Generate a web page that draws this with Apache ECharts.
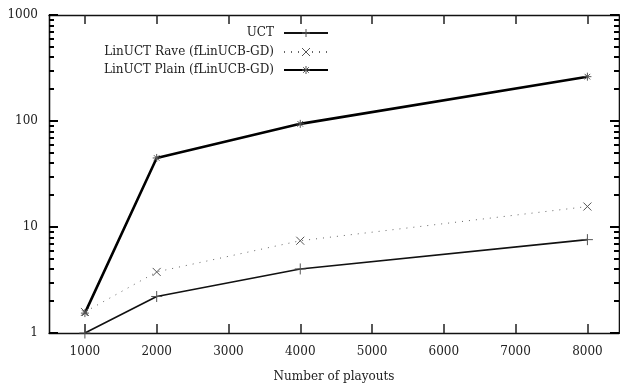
<!DOCTYPE html>
<html>
<head>
<meta charset="utf-8">
<script src="https://cdn.jsdelivr.net/npm/echarts@6/dist/echarts.min.js"></script>
<style>
html,body{margin:0;padding:0;background:#fff;}
#c{width:620px;height:388px;}
</style>
</head>
<body>
<div id="c"></div>
<script>
var playouts = [1000, 2000, 4000, 8000];
var uctValues = [1.0, 2.21, 4.02, 7.6];
var raveValues = [1.58, 3.77, 7.42, 15.6];
var plainValues = [1.54, 44.8, 94, 262];
var xTicks = [1000, 2000, 3000, 4000, 5000, 6000, 7000, 8000];
var yMinorTicks = [2,3,4,5,6,7,8,9,20,30,40,50,60,70,80,90,200,300,400,500,600,700,800,900];
var seriesNames = ['UCT', 'LinUCT Rave (fLinUCB-GD)', 'LinUCT Plain (fLinUCB-GD)'];

function pairs(vals){ return playouts.map(function(x,i){ return [x, vals[i]]; }); }

var FONT = 'DejaVu Serif';
var TXT = '#222';
var TICK = '#222';
var sym = {
  plus: 'path://M0,5L10,5M5,0L5,10',
  cross: 'path://M0,0L10,10M10,0L0,10',
  star: 'path://M0,5L10,5M5,0L5,10M1.5,1.5L8.5,8.5M8.5,1.5L1.5,8.5'
};
var axLine = {show:true, lineStyle:{color:'#111', width:1.3}};
function plain(v){ return String(v); }

function yMajor(pos, labels){
  return {
    type:'log', logBase:10, min:1, max:1000, position:pos,
    axisLine: axLine, splitLine:{show:false}, minorTick:{show:false},
    axisTick:{show:true, inside:true, length:9, lineStyle:{color:'#000', width:2}},
    axisLabel: labels ? {show:true, margin:11, fontFamily:FONT, fontSize:12, color:TXT, formatter:plain} : {show:false}
  };
}
function yMinor(pos){
  return {
    type:'log', logBase:10, min:1, max:1000, position:pos,
    axisLine: axLine, splitLine:{show:false}, minorTick:{show:false},
    axisTick:{show:true, inside:true, length:5, customValues:yMinorTicks, lineStyle:{color:'#000', width:2}},
    axisLabel:{show:false}
  };
}
function xAxisDef(pos, labels){
  var a = {
    type:'value', min:500, max:8440, position:pos,
    axisLine: axLine, splitLine:{show:false},
    axisTick:{show:true, inside:true, length:9, customValues:xTicks, lineStyle:{color:TICK, width:1.5}},
    axisLabel:{show:false}
  };
  if (labels) {
    a.axisLabel = {show:true, customValues:xTicks, margin:13, fontFamily:FONT, fontSize:12, color:TXT, formatter:plain};
    a.name = 'Number of playouts';
    a.nameLocation = 'middle';
    a.nameGap = 38;
    a.nameTextStyle = {fontFamily:FONT, fontSize:12, color:TXT};
  }
  return a;
}
function legendDef(name, top){
  return {
    data:[name], right:291, top:top, orient:'vertical', align:'right',
    itemWidth:44, itemHeight:10, padding:0,
    itemStyle:{borderWidth:1},
    textStyle:{fontFamily:FONT, fontSize:12, color:TXT, padding:[0,5,0,0]}
  };
}

var chart = echarts.init(document.getElementById('c'), null, {renderer:'canvas'});
chart.setOption({
  animation:false,
  backgroundColor:'#fff',
  grid:{left:49, right:1, top:15, bottom:54.5, containLabel:false},
  xAxis:[xAxisDef('bottom', true), xAxisDef('top', false)],
  yAxis:[yMajor('left', true), yMinor('left'), yMajor('right', false), yMinor('right')],
  legend:[legendDef(seriesNames[0], 27), legendDef(seriesNames[1], 46), legendDef(seriesNames[2], 64)],
  series:[
    {name:seriesNames[0], type:'line', data:pairs(uctValues), symbol:sym.plus, symbolSize:11,
     lineStyle:{color:'#111', width:1.6}, itemStyle:{color:'#555', borderColor:'#555', borderWidth:1}},
    {name:seriesNames[1], type:'line', data:pairs(raveValues), symbol:sym.cross, symbolSize:8,
     lineStyle:{color:'#666', width:1, type:[1,6]}, itemStyle:{color:'#555', borderColor:'#555', borderWidth:1}},
    {name:seriesNames[2], type:'line', data:pairs(plainValues), symbol:sym.star, symbolSize:8,
     lineStyle:{color:'#000', width:2.6}, itemStyle:{color:'#555', borderColor:'#555', borderWidth:1}}
  ]
});
</script>
</body>
</html>
